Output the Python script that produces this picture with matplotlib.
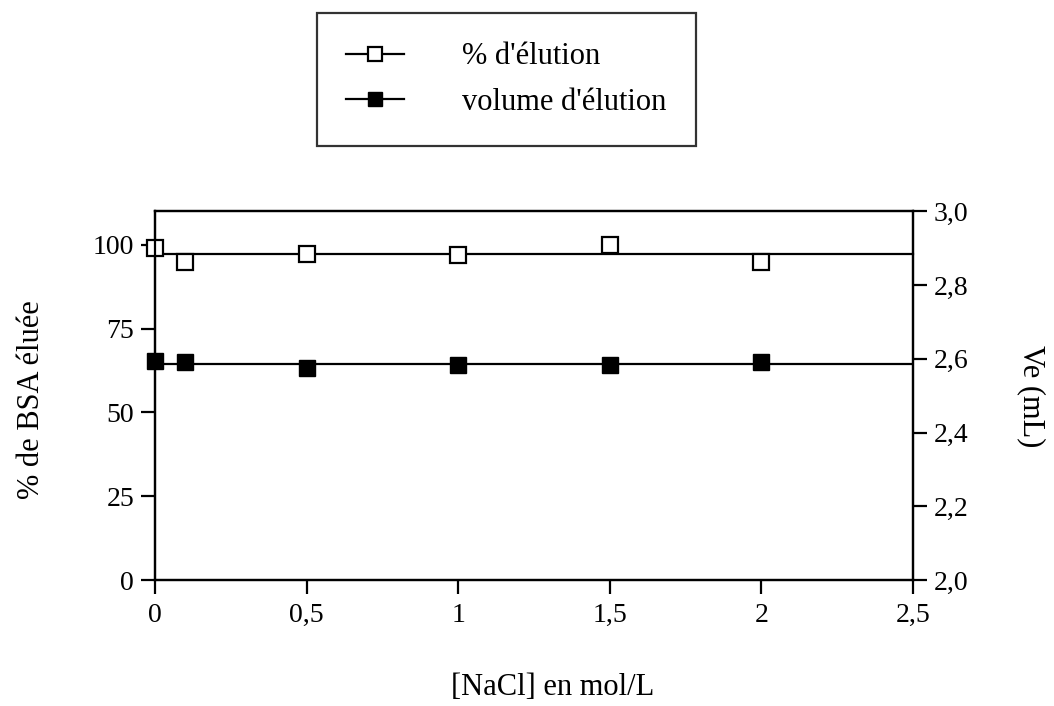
import numpy as np
import matplotlib
matplotlib.use("Agg")
import matplotlib.pyplot as plt
from matplotlib.lines import Line2D
from matplotlib.ticker import FuncFormatter

plt.rcParams['font.family'] = ['Liberation Serif', 'DejaVu Serif']

# data
nacl = [0, 0.1, 0.5, 1, 1.5, 2]
pct_elution = [99.0, 94.9, 97.2, 97.0, 99.9, 94.8]
vol_elution = [2.595, 2.591, 2.576, 2.583, 2.582, 2.590]

x_ticks = [0, 0.5, 1, 1.5, 2, 2.5]
left_ticks = [0, 25, 50, 75, 100]
right_ticks = [2.0, 2.2, 2.4, 2.6, 2.8, 3.0]

fig = plt.figure(figsize=(10.54, 7.06), dpi=100)
ax = fig.add_axes([0.147, 0.178, 0.719, 0.523])
ax2 = ax.twinx()

comma = FuncFormatter(lambda v, p: ('%g' % v).replace('.', ','))
comma1 = FuncFormatter(lambda v, p: ('%.1f' % v).replace('.', ','))

# % elution (left axis) with its mean line
ax.plot([0, 2.5], [np.mean(pct_elution)] * 2, color='black', lw=1.6, clip_on=False)
ax.plot(nacl, pct_elution, ls='none', marker='s', ms=12, mfc='white', mec='black',
        mew=1.6, clip_on=False, zorder=5)

# volume (right axis) with its mean line
ax2.plot([0, 2.5], [np.mean(vol_elution)] * 2, color='black', lw=1.6)
ax2.plot(nacl, vol_elution, ls='none', marker='s', ms=12, mfc='black', mec='black',
         clip_on=False, zorder=5)

ax.set_xlim(0, 2.5)
ax.set_ylim(0, 110)
ax2.set_ylim(2.0, 3.0)
ax.set_xticks(x_ticks)
ax.set_yticks(left_ticks)
ax2.set_yticks(right_ticks)
ax.xaxis.set_major_formatter(comma)
ax2.yaxis.set_major_formatter(comma1)

for a in (ax, ax2):
    for s in a.spines.values():
        s.set_linewidth(1.6)
    a.tick_params(direction='out', length=10, width=1.6, labelsize=20, pad=5)
ax.tick_params(axis='x', pad=6)

ax.set_xlabel('[NaCl] en mol/L', fontsize=22, va='center')
ax.xaxis.set_label_coords(0.525, -0.29)
ax.set_ylabel('% de BSA éluée', fontsize=22, va='center')
ax.yaxis.set_label_coords(-0.163, 0.49)
ax2.set_ylabel('Ve (mL)', fontsize=22, rotation=270, va='center')
ax2.yaxis.set_label_coords(1.157, 0.5)

handles = [
    Line2D([], [], color='black', lw=1.6, marker='s', ms=10, mfc='white', mec='black', mew=1.6),
    Line2D([], [], color='black', lw=1.6, marker='s', ms=10, mfc='black', mec='black'),
]
leg = fig.legend(handles, ["% d'élution", "volume d'élution"], loc='center',
                 bbox_to_anchor=(0.4806, 0.887), fontsize=22, frameon=True, fancybox=False,
                 edgecolor='black', handlelength=1.9, handletextpad=1.9,
                 borderpad=0.95, labelspacing=0.55, borderaxespad=0)
leg.get_frame().set_linewidth(1.6)

fig.savefig('out.png', dpi=100)
